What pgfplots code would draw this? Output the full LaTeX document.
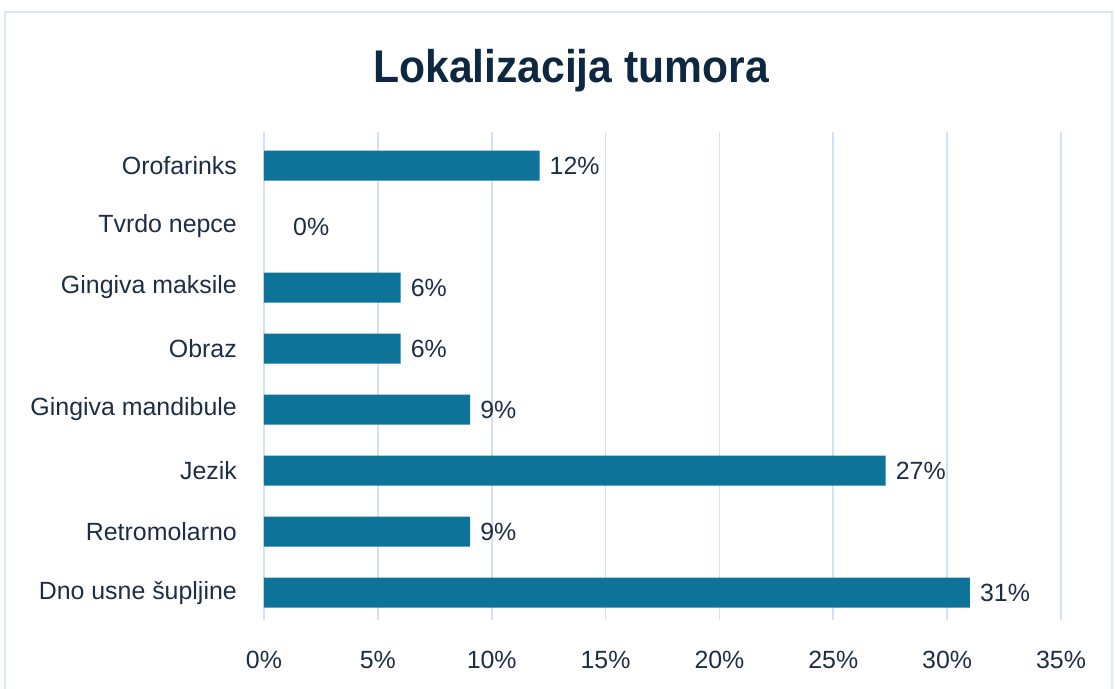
\documentclass[border=0pt]{standalone}
\usepackage{fontspec}
\usepackage{graphicx}
\usepackage{pgfplots}
\pgfplotsset{compat=1.18}
\setmainfont{Liberation Sans}
\definecolor{barc}{HTML}{0E7399}
\definecolor{txtc}{HTML}{1E2D45}
\definecolor{titc}{HTML}{0E2841}
\definecolor{gridc}{HTML}{D2E2F6}
\definecolor{framec}{HTML}{DAE7F7}
\begin{document}
\begin{tikzpicture}[x=1bp,y=1bp]
% page = 1115 x 689 px, axis box lower left at px (264,620)
\path[use as bounding box] (-264,-69) rectangle (851,620);
\draw[framec, line width=1.5bp] (-259,-75) -- (-259,608) -- (848,608) -- (848,-75);
\node[text=titc, font=\fontsize{46}{50}\selectfont\bfseries] at (307,549)
  {\scalebox{0.93}[1]{Lokalizacija tumora}};
\begin{axis}[
  at={(0,0)}, anchor=south west,
  scale only axis, width=797bp, height=488bp,
  xbar, bar width=30bp, bar shift=0pt,
  xmin=0, xmax=35, ymin=-0.45, ymax=7.55,
  xtick={0,5,...,35},
  xticklabel={\pgfmathprintnumber{\tick}\%},
  ytick={0,...,7},
  yticklabels={Dno usne šupljine, Retromolarno, Jezik, Gingiva mandibule,
    Obraz, Gingiva maksile, Tvrdo nepce, Orofarinks},
  /pgf/number format/assume math mode=true,
  axis line style={draw=none},
  major tick length=0pt,
  xmajorgrids, ymajorgrids=false,
  major grid style={color=gridc, line width=1.8bp},
  tick label style={text=txtc, font=\fontsize{25}{30}\selectfont, inner sep=0pt},
  yticklabel style={anchor=east, xshift=-27bp},
  xticklabel style={anchor=north, yshift=-31bp},
  point meta=x,
  nodes near coords={\pgfmathprintnumber[fixed,precision=0]{\pgfplotspointmeta}\%},
  nodes near coords style={anchor=west, inner sep=0pt, xshift=10bp, text=txtc,
    font=\fontsize{25}{30}\selectfont},
  clip=false,
]
\addplot[fill=barc, draw=none] coordinates {
  (31.0,0)
  (9.05,1)
  (27.3,2)
  (9.05,3)
  (6.0,4)
  (6.0,5)
  (12.1,7)
};
% Tvrdo nepce: 0, label only
\addplot[fill=none, draw=none,
  nodes near coords style={xshift=19bp}] coordinates {
  (0,6)
};
\end{axis}
\end{tikzpicture}
\end{document}
